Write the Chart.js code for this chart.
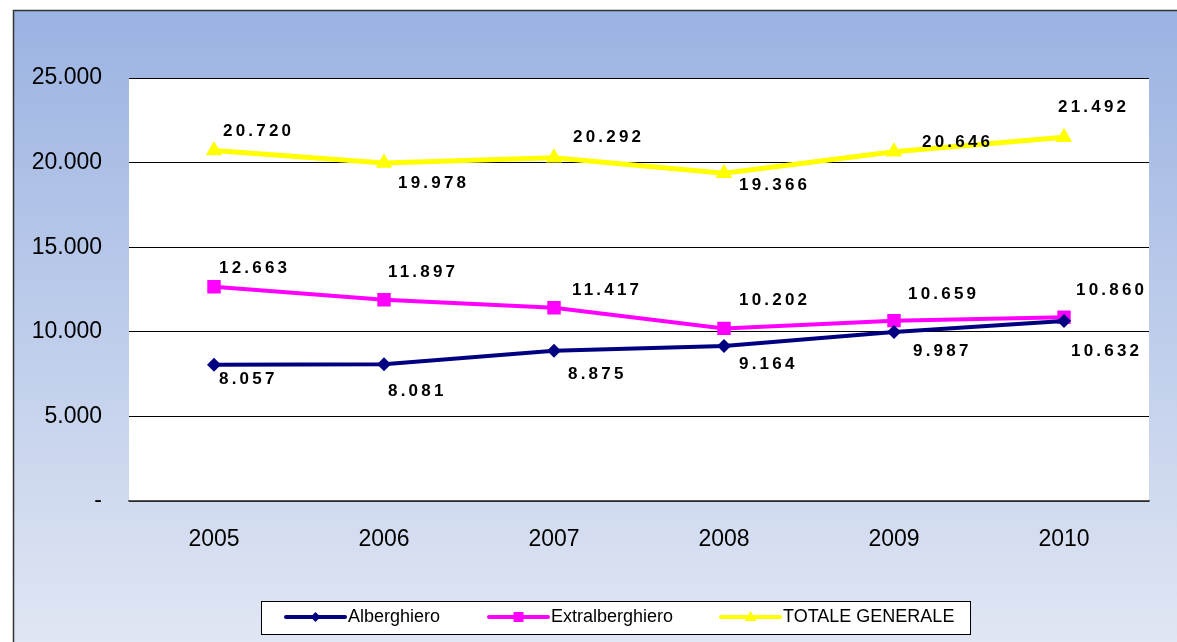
<!DOCTYPE html>
<html>
<head>
<meta charset="utf-8">
<script src="https://cdn.jsdelivr.net/npm/chart.js@4.4.1/dist/chart.umd.min.js"></script>
<style>
  html, body { margin: 0; padding: 0; background: #fff; }
  #wrap { width: 1177px; height: 642px; }
</style>
</head>
<body>
<div id="wrap"><canvas id="chart" width="1177" height="642"></canvas></div>
<script>
// Dati
const anni = ['2005', '2006', '2007', '2008', '2009', '2010'];
const alberghiero = [8057, 8081, 8875, 9164, 9987, 10632];
const extralberghiero = [12663, 11897, 11417, 10202, 10659, 10860];
const totaleGenerale = [20720, 19978, 20292, 19366, 20646, 21492];
const yTicks = [0, 5000, 10000, 15000, 20000, 25000];

// spostamento delle etichette rispetto al punto [dx, dy]
const labelOffsets = [
    [[5, 15], [4, 27], [14, 23], [15, 18], [19, 19], [7, 30]],
    [[5, -18], [4, -27], [18, -18], [15, -28], [14, -26], [12, -27]],
    [[9, -19], [14, 20], [19, -20], [15, 12], [28, -9], [-6, -30]]
];

const fmt = (v) => v === 0 ? '-' : String(v).replace(/\B(?=(\d{3})+(?!\d))/g, '.');

// Sfondo, cornice e area bianca
const sfondo = {
    id: 'sfondo',
    beforeDraw(chart) {
        const c = chart.ctx;
        const a = chart.chartArea;
        c.save();
        c.fillStyle = '#ffffff';
        c.fillRect(0, 0, chart.width, chart.height);
        const g = c.createLinearGradient(0, 10, 0, chart.height);
        g.addColorStop(0, '#9bb3e2');
        g.addColorStop(1, '#e0e6f3');
        c.fillStyle = g;
        c.fillRect(13, 10, chart.width - 13, chart.height - 10);
        c.strokeStyle = '#333';
        c.lineWidth = 1.5;
        c.beginPath();
        c.moveTo(13.5, chart.height);
        c.lineTo(13.5, 10.5);
        c.lineTo(chart.width, 10.5);
        c.stroke();
        c.fillStyle = '#ffffff';
        c.fillRect(a.left, a.top, a.right - a.left, a.bottom - a.top);
        c.restore();
    }
};

// Etichette dei valori
const etichette = {
    id: 'etichette',
    afterDatasetsDraw(chart) {
        const c = chart.ctx;
        c.save();
        c.font = 'bold 17px "Liberation Sans", Arial, sans-serif';
        c.fillStyle = '#000';
        c.textAlign = 'left';
        c.textBaseline = 'middle';
        c.letterSpacing = '3.2px';
        chart.data.datasets.forEach((ds, i) => {
            const meta = chart.getDatasetMeta(i);
            meta.data.forEach((pt, j) => {
                const off = labelOffsets[i][j];
                c.fillText(fmt(ds.data[j]), pt.x + off[0], pt.y + off[1]);
            });
        });
        c.restore();
    }
};

// Legenda con riquadro
const legenda = {
    id: 'legenda',
    afterDraw(chart) {
        const c = chart.ctx;
        c.save();
        c.fillStyle = '#fff';
        c.fillRect(261, 601, 709, 33);
        c.strokeStyle = '#000';
        c.lineWidth = 1;
        c.strokeRect(261.5, 601.5, 709, 33);
        const items = [
            { x: 286, ds: chart.data.datasets[0] },
            { x: 489, ds: chart.data.datasets[1] },
            { x: 721, ds: chart.data.datasets[2] }
        ];
        const y = 617;
        items.forEach(it => {
            const col = it.ds.borderColor;
            c.strokeStyle = col;
            c.fillStyle = col;
            c.lineWidth = 4;
            c.lineCap = 'round';
            c.beginPath();
            c.moveTo(it.x, y);
            c.lineTo(it.x + 59, y);
            c.stroke();
            const cx = it.x + 29.5;
            c.beginPath();
            if (it.ds.pointStyle === 'rectRot') {
                c.moveTo(cx, y - 5); c.lineTo(cx + 5, y); c.lineTo(cx, y + 5); c.lineTo(cx - 5, y);
            } else if (it.ds.pointStyle === 'rect') {
                c.rect(cx - 5, y - 5, 10, 10);
            } else {
                c.moveTo(cx, y - 6); c.lineTo(cx + 6, y + 4); c.lineTo(cx - 6, y + 4);
            }
            c.closePath();
            c.fill();
            c.fillStyle = '#000';
            c.font = '18px "Liberation Sans", Arial, sans-serif';
            c.textAlign = 'left';
            c.textBaseline = 'middle';
            c.fillText(it.ds.label, it.x + 62, y);
        });
        c.restore();
    }
};

const ctx = document.getElementById('chart').getContext('2d');

const grafico = new Chart(ctx, {
    type: 'line',
    data: {
        labels: anni,
        datasets: [
            {
                label: 'Alberghiero',
                data: alberghiero,
                borderColor: '#000080',
                backgroundColor: '#000080',
                borderWidth: 4,
                pointStyle: 'rectRot',
                pointRadius: 7,
                pointBorderWidth: 0,
                tension: 0
            },
            {
                label: 'Extralberghiero',
                data: extralberghiero,
                borderColor: '#ff00ff',
                backgroundColor: '#ff00ff',
                borderWidth: 4,
                pointStyle: 'rect',
                pointRadius: 9.5,
                pointBorderWidth: 0,
                tension: 0
            },
            {
                label: 'TOTALE GENERALE',
                data: totaleGenerale,
                borderColor: '#ffff00',
                backgroundColor: '#ffff00',
                borderWidth: 5,
                pointStyle: 'triangle',
                pointRadius: 9.5,
                pointBorderWidth: 0,
                tension: 0
            }
        ]
    },
    options: {
        responsive: false,
        animation: false,
        events: [],
        layout: {
            padding: { top: 78, right: 28, left: 0, bottom: 0 }
        },
        plugins: {
            legend: { display: false },
            tooltip: { enabled: false }
        },
        scales: {
            x: {
                offset: true,
                grid: { display: false, drawTicks: false },
                border: { display: true, color: '#555', width: 1.5 },
                ticks: {
                    color: '#000',
                    padding: 25,
                    font: { family: '"Liberation Sans", Arial, sans-serif', size: 23 }
                },
                afterFit(scale) { scale.height = 141; }
            },
            y: {
                min: yTicks[0],
                max: yTicks[yTicks.length - 1],
                afterBuildTicks(scale) { scale.ticks = yTicks.map(v => ({ value: v })); },
                grid: { color: '#000', lineWidth: 1, drawTicks: false },
                border: { display: false },
                ticks: {
                    color: '#000',
                    padding: 27,
                    font: { family: '"Liberation Sans", Arial, sans-serif', size: 23 },
                    callback: (v) => fmt(v)
                },
                afterFit(scale) { scale.width = 129; }
            }
        }
    },
    plugins: [sfondo, etichette, legenda]
});
</script>
</body>
</html>
